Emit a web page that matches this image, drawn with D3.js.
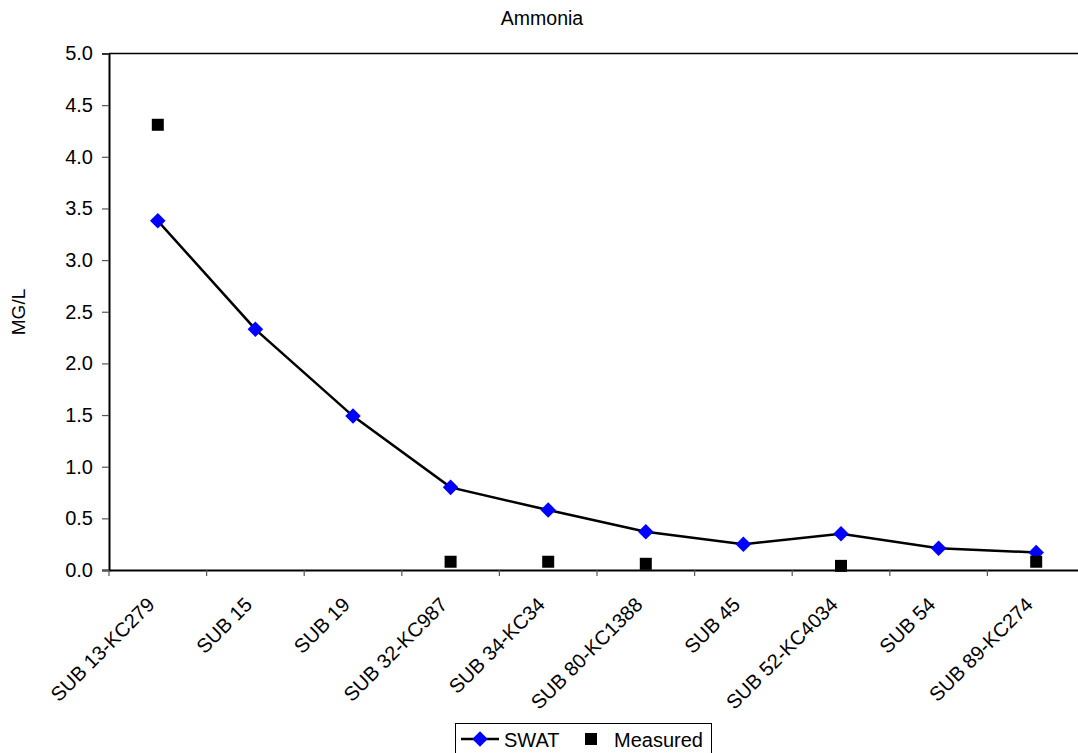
<!DOCTYPE html>
<html><head><meta charset="utf-8">
<script src="https://cdn.jsdelivr.net/npm/d3@7"></script>
<style>body{margin:0;background:#fff;}svg{display:block;font-family:Arial,"Liberation Sans",sans-serif;}</style>
</head><body>
<svg id="c" width="1078" height="753"></svg>
<script>
const categories = ["SUB 13-KC279","SUB 15","SUB 19","SUB 32-KC987","SUB 34-KC34","SUB 80-KC1388","SUB 45","SUB 52-KC4034","SUB 54","SUB 89-KC274"];
const swat = [3.38, 2.33, 1.49, 0.80, 0.58, 0.37, 0.25, 0.35, 0.21, 0.17];
const measured = [4.31, null, null, 0.08, 0.08, 0.06, null, 0.04, null, 0.08];
const yTicks = [0,0.5,1,1.5,2,2.5,3,3.5,4,4.5,5];

const FONT = "Arial,'Liberation Sans',sans-serif";
const svg = d3.select("#c");
const L = 109, R = 1085, T = 53.5, B = 570;
const x = d3.scaleBand().domain(categories).range([L, R]).padding(0);
const y = d3.scaleLinear().domain([0,5]).range([B, T]);
const cx = d => x(d) + x.bandwidth()/2;

// plot border (top; right side falls outside the picture)
svg.append("line").attr("x1",L).attr("x2",R).attr("y1",T).attr("y2",T).attr("stroke","#000").attr("stroke-width",1.5);

// y axis
const ya = svg.append("g").attr("transform",`translate(${L},0)`)
  .call(d3.axisLeft(y).tickValues(yTicks).tickFormat(d3.format(".1f")).tickSize(7).tickPadding(9));
ya.select(".domain").attr("stroke","#000").attr("stroke-width",2);
ya.selectAll(".tick line").attr("stroke","#555").attr("stroke-width",1.2);
ya.selectAll("text").attr("font-size",20).attr("font-family",FONT).attr("fill","#000");

// x axis
const xa = svg.append("g").attr("transform",`translate(0,${B})`)
  .call(d3.axisBottom(x).tickSize(0).tickFormat(""));
xa.select(".domain").attr("stroke","#000").attr("stroke-width",2);
const edges = categories.map(c => x(c)).concat([R]);
svg.append("g").selectAll("line").data(edges).join("line")
  .attr("x1",d=>d).attr("x2",d=>d).attr("y1",B).attr("y2",B+6)
  .attr("stroke","#555").attr("stroke-width",1.2);
svg.append("g").selectAll("text").data(categories).join("text")
  .attr("transform",d=>`translate(${cx(d)-2},${B+36}) rotate(-45)`)
  .attr("text-anchor","end")
  .attr("font-size",20).attr("fill","#000").text(d=>d);

// title & y label
svg.append("text").attr("x",542).attr("y",25).attr("text-anchor","middle").attr("font-size",19.5).text("Ammonia");
svg.append("text").attr("transform","translate(25,312) rotate(-90)").attr("text-anchor","middle").attr("font-size",19).text("MG/L");

// SWAT line
const line = d3.line().x((d,i)=>cx(categories[i])).y(d=>y(d));
svg.append("path").datum(swat).attr("d",line).attr("fill","none").attr("stroke","#000").attr("stroke-width",2.5);
svg.append("g").selectAll("rect").data(swat).join("rect")
  .attr("x",-5.5).attr("y",-5.5).attr("width",11).attr("height",11)
  .attr("transform",(d,i)=>`translate(${cx(categories[i])},${y(d)}) rotate(45)`)
  .attr("fill","#0000ff");

// Measured
const md = measured.map((v,i)=>({v,c:categories[i]})).filter(d=>d.v!==null);
svg.append("g").selectAll("rect").data(md).join("rect")
  .attr("x",d=>cx(d.c)-6).attr("y",d=>y(d.v)-6).attr("width",12).attr("height",12)
  .attr("fill","#000");

// legend
const lg = svg.append("g");
lg.append("rect").attr("x",455.5).attr("y",723.5).attr("width",256).attr("height",40).attr("fill","#fff").attr("stroke","#000").attr("stroke-width",1);
lg.append("line").attr("x1",461).attr("x2",499).attr("y1",739).attr("y2",739).attr("stroke","#000").attr("stroke-width",2.5);
lg.append("rect").attr("x",-5.5).attr("y",-5.5).attr("width",11).attr("height",11).attr("transform","translate(480,739) rotate(45)").attr("fill","#0000ff");
lg.append("text").attr("x",504).attr("y",747).attr("font-size",20).text("SWAT");
lg.append("rect").attr("x",585).attr("y",733).attr("width",12).attr("height",12).attr("fill","#000");
lg.append("text").attr("x",614).attr("y",747).attr("font-size",20).text("Measured");
</script>
</body></html>
